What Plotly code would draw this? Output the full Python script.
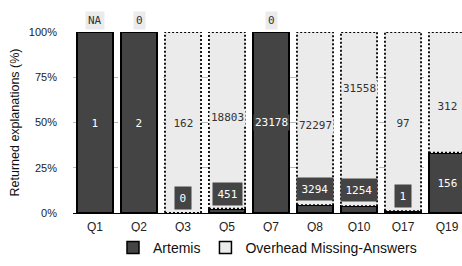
import plotly.graph_objects as go

categories = ['Q1', 'Q2', 'Q3', 'Q5', 'Q7', 'Q8', 'Q10', 'Q17', 'Q19']
artemis = [1, 2, 0, 451, 23178, 3294, 1254, 1, 156]
overhead = [None, 0, 162, 18803, 0, 72297, 31558, 97, 312]
# label anchor heights (% of bar) (ggrepel-like placement)
artemis_label_pct = [50, 50, 8.3, 10.5, 50, 13, 12.7, 9.4, 16.6]
overhead_label_pct = [106.6, 106.6, 50, 53, 106.6, 48.6, 69, 50, 59]

DARK = '#444444'
LIGHT = '#ebebeb'
BW = 0.82

x = list(range(len(categories)))
tot = [a + (o or 0) for a, o in zip(artemis, overhead)]
a_frac = [a / t for a, t in zip(artemis, tot)]
o_frac = [((o or 0) / t) if o else None for o, t in zip(overhead, tot)]

fig = go.Figure()

fig.add_trace(go.Bar(
    x=x, y=a_frac, width=BW, name='Artemis',
    marker=dict(color=DARK, line=dict(color='black', width=[1.8 if a > 0 else 0 for a in artemis])),
    cliponaxis=False, showlegend=False, hoverinfo='skip'))
fig.add_trace(go.Bar(
    x=x, y=o_frac, width=BW, name='Overhead Missing-Answers',
    marker=dict(color=LIGHT, line=dict(width=0)),
    cliponaxis=False, showlegend=False, hoverinfo='skip'))

# dotted outlines of overhead segments
for i, (af, of) in enumerate(zip(a_frac, o_frac)):
    if not of:
        continue
    x0, x1 = i - BW / 2, i + BW / 2
    y0, y1 = af, af + of
    fig.add_trace(go.Scatter(
        x=[x0, x1, x1, x0, x0], y=[y0, y0, y1, y1, y0], mode='lines',
        line=dict(color='black', width=1.8, dash='2px,2px'),
        cliponaxis=False, showlegend=False, hoverinfo='skip'))

# legend-only entries
fig.add_trace(go.Bar(x=[None], y=[None], name='Artemis',
                     marker=dict(color=DARK, line=dict(color='black', width=1.5))))
fig.add_trace(go.Bar(x=[None], y=[None], name='Overhead Missing-Answers',
                     marker=dict(color=LIGHT, line=dict(color='black', width=1.5))))

MONO = 'DejaVu Sans Mono'
for i in x:
    a_txt = str(artemis[i])
    fig.add_annotation(x=i, y=artemis_label_pct[i] / 100, yref='paper', text=a_txt,
                       xanchor='center', yanchor='middle',
                       showarrow=False, font=dict(family=MONO, size=11, color='white'),
                       bgcolor=DARK, borderpad=1 if len(a_txt) >= 5 else 4.5)
    o = overhead[i]
    txt = 'NA' if o is None else str(o)
    top = overhead_label_pct[i] > 100
    fig.add_annotation(x=i, y=overhead_label_pct[i] / 100, yref='paper', text=txt,
                       xanchor='center', yanchor='middle',
                       showarrow=False, font=dict(family=MONO, size=11, color='#333333'),
                       bgcolor=LIGHT, borderpad=2 if top else (1 if len(txt) >= 5 else 4.5))

fig.update_layout(
    width=462, height=266, barmode='stack',
    margin=dict(l=73, r=0, t=32, b=53, autoexpand=False),
    paper_bgcolor='white', plot_bgcolor='white',
    font=dict(family='Liberation Sans', color='#222222'),
    legend=dict(orientation='h', x=0.5, xanchor='center', y=-0.105, yanchor='top',
                font=dict(size=14, color='#111111'), traceorder='normal'),
)
fig.update_xaxes(range=[-0.5, -0.5 + 389 / 44], tickvals=x, ticktext=categories,
                 showgrid=False, zeroline=False, showline=True, linecolor='black', linewidth=1.2,
                 ticks='', ticklabelstandoff=2, tickfont=dict(size=12, color='#222222'),
                 automargin=False)
fig.update_yaxes(range=[0, 1], tickvals=[0, 0.25, 0.5, 0.75, 1],
                 ticktext=['0%', '25%', '50%', '75%', '100%'],
                 showgrid=True, gridcolor='#bbbbbb', griddash='dash', gridwidth=1,
                 zeroline=False, showline=False, ticks='', ticklabelstandoff=15,
                 tickfont=dict(size=11, color='#222222'), automargin=False,
                 title=dict(text='Returned explanations (%)', font=dict(size=12.5, color='#111111'), standoff=6))

# remove the default page margin so the figure fills the 462x266 window exactly
fig.write_html('out.html', config={'displayModeBar': False},
               post_script="document.body.style.margin='0';document.body.style.overflow='hidden';")
